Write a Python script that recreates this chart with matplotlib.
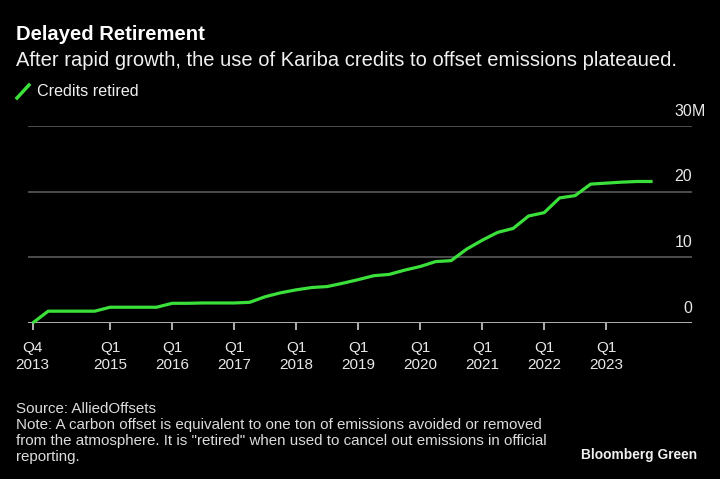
import matplotlib
matplotlib.use('Agg')
import matplotlib.pyplot as plt
import numpy as np
import pandas as pd

# quarterly cumulative Kariba credits retired, millions (Q4 2013 .. Q4 2023)
quarters = pd.period_range('2013Q4', '2023Q4', freq='Q')
credits_retired = [
    0.0, 1.8, 1.8, 1.8, 1.8, 2.4, 2.4, 2.4, 2.4, 3.0,
    3.0, 3.05, 3.05, 3.05, 3.15, 4.0, 4.6, 5.05, 5.4, 5.55,
    6.05, 6.6, 7.2, 7.4, 8.05, 8.6, 9.35, 9.5, 11.25, 12.6,
    13.8, 14.4, 16.3, 16.8, 19.05, 19.4, 21.15, 21.3, 21.45, 21.55,
    21.55,
]
tick_quarters = ['2013Q4', '2015Q1', '2016Q1', '2017Q1', '2018Q1', '2019Q1',
                 '2020Q1', '2021Q1', '2022Q1', '2023Q1']
y_ticks = [0, 10, 20, 30]
y_labels = ['0', '10', '20', '30']

BG = '#000000'
GREEN = '#3be03a'
GRID = '#5a5a5a'
FONT = 'Liberation Sans'

plt.rcParams['font.family'] = [FONT, 'DejaVu Sans']

fig = plt.figure(figsize=(7.2, 4.79), dpi=100, facecolor=BG)
W, H = 720, 479
left, right, bottom, top = 28, 692, 323, 126
ax = fig.add_axes([left / W, 1 - bottom / H, (right - left) / W, (bottom - top) / H])
ax.set_facecolor(BG)

x = np.arange(len(quarters))
ax.plot(x, credits_retired, color=GREEN, lw=2.3, solid_joinstyle='round',
        solid_capstyle='butt', clip_on=False, zorder=3)

ax.set_xlim(-0.3, 42.54)
ax.set_ylim(0, 30)

for s in ax.spines.values():
    s.set_visible(False)
for v in y_ticks[1:]:
    ax.axhline(v, color=GRID, lw=1.2, zorder=1)
ax.axhline(0, color='#cfcfcf', lw=1.2, zorder=2)

pos = [list(quarters.astype(str)).index(q) for q in tick_quarters]
labels = [f"Q{q[-1]}\n{q[:4]}" for q in tick_quarters]
ax.set_xticks(pos)
ax.set_xticklabels(labels, fontsize=11, color='#e8e8e8', linespacing=1.3)
ax.tick_params(axis='x', length=5, width=1.2, color='#cfcfcf', pad=8)
ax.set_yticks([])

for v, lab in zip(y_ticks, y_labels):
    ax.text(1.0, v + 1.1, lab, transform=ax.get_yaxis_transform(), ha='right',
            va='bottom', fontsize=11.5, color='#e8e8e8')
ax.text(1.0, 30 + 1.1, 'M', transform=ax.get_yaxis_transform(), ha='left',
        va='bottom', fontsize=11.5, color='#e8e8e8')

# titles
fig.text(16 / W, 1 - 34 / H, 'Delayed Retirement', fontsize=14.6, fontweight='bold',
         color='white', va='center', ha='left')
fig.text(16 / W, 1 - 60 / H, 'After rapid growth, the use of Kariba credits to offset emissions plateaued.',
         fontsize=14.5, color='#f0f0f0', va='center', ha='left')

# legend
fig.add_artist(plt.Line2D([17 / W, 29 / W], [1 - 98 / H, 1 - 85 / H], color=GREEN, lw=2.5))
fig.text(37 / W, 1 - 91 / H, 'Credits retired', fontsize=11.6, color='#f0f0f0',
         va='center', ha='left')

# footer
footer = ('Source: AlliedOffsets\n'
          'Note: A carbon offset is equivalent to one ton of emissions avoided or removed\n'
          'from the atmosphere. It is "retired" when used to cancel out emissions in official\n'
          'reporting.')
fig.text(16 / W, 1 - 402 / H, footer, fontsize=10.9, color='#dcdcdc', va='top', ha='left',
         linespacing=1.18)
fig.text(697 / W, 1 - 455 / H, 'Bloomberg Green', fontsize=9.9, fontweight='bold',
         color='#f0f0f0', va='center', ha='right')

fig.savefig('out.png', dpi=100, facecolor=BG)
